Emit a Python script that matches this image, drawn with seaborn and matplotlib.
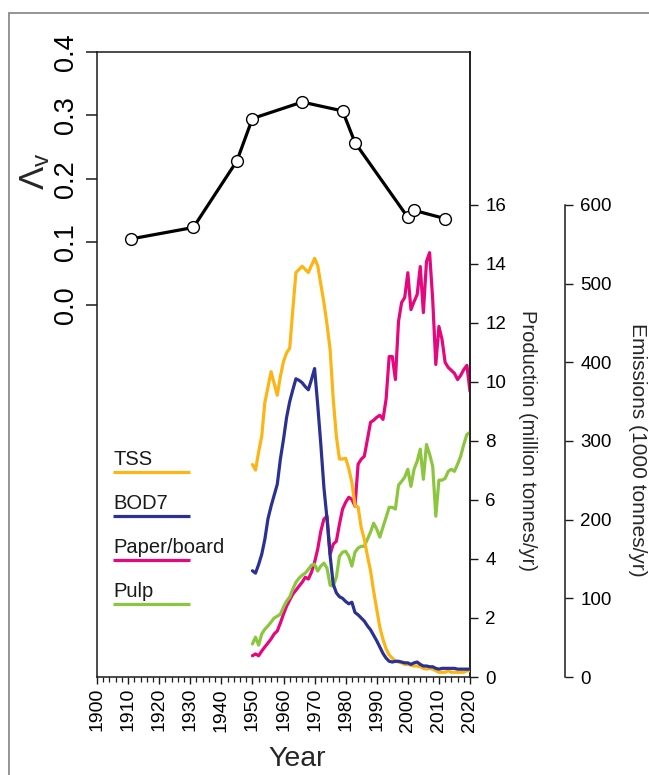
import matplotlib
matplotlib.use("Agg")
import matplotlib.pyplot as plt
from matplotlib.lines import Line2D
from matplotlib.ticker import MultipleLocator
import numpy as np
import pandas as pd
import seaborn as sns

# Lambda_v estimates (sparse years)
lambda_years = [1911, 1931, 1945, 1950, 1966, 1979, 1983, 2000, 2002, 2012]
lambda_vals = [0.105, 0.123, 0.228, 0.295, 0.321, 0.307, 0.257, 0.139, 0.150, 0.137]

years = list(range(1950, 2021))

# emissions, 1000 tonnes/yr
tss = [270, 263, 286, 306, 349, 368, 388, 373, 358, 382,
       401, 412, 418, 467, 514, 518, 522, 518, 514, 523,
       532, 523, 499, 476, 448, 416, 353, 306, 277, 277,
       278, 265, 247, 218, 216, 190, 175, 154, 135, 109,
       86, 63, 48, 36, 28, 24, 20, 19, 18, 16,
       16, 15, 14, 14, 13, 11, 10, 11, 10, 8,
       6, 6, 6, 8, 6, 6, 6, 6, 6, 8,
       8]
bod7 = [135, 132, 143, 156, 175, 201, 217, 231, 245, 277,
        302, 330, 350, 365, 379, 377, 374, 369, 365, 378,
        392, 346, 296, 241, 201, 154, 118, 107, 102, 100,
        96, 93, 95, 82, 79, 75, 71, 65, 60, 53,
        46, 38, 30, 24, 20, 19, 20, 20, 19, 18,
        18, 16, 18, 19, 16, 14, 14, 13, 13, 11,
        10, 11, 11, 11, 11, 11, 10, 10, 10, 10,
        10]

# production, million tonnes/yr
paper = [0.72, 0.78, 0.72, 0.88, 1.02, 1.15, 1.29, 1.46, 1.56, 1.83,
         2.13, 2.40, 2.61, 2.81, 2.94, 3.08, 3.21, 3.38, 3.32, 3.55,
         3.89, 4.33, 4.94, 5.35, 5.45, 4.16, 4.50, 4.60, 5.18, 5.69,
         5.92, 6.09, 6.02, 5.79, 7.21, 7.38, 7.48, 8.05, 8.63, 8.70,
         8.80, 8.87, 8.73, 9.41, 10.86, 10.86, 10.08, 12.05, 12.69, 12.86,
         13.70, 12.45, 12.72, 12.96, 13.91, 12.35, 14.08, 14.38, 12.79, 10.59,
         11.88, 11.44, 10.66, 10.49, 10.39, 10.29, 10.08, 10.22, 10.42, 10.56,
         9.68]
pulp = [1.12, 1.35, 1.08, 1.46, 1.62, 1.73, 1.86, 2.00, 2.06, 2.13,
        2.37, 2.57, 2.71, 2.98, 3.21, 3.35, 3.45, 3.52, 3.65, 3.79,
        3.82, 3.59, 3.76, 3.86, 3.69, 3.11, 3.08, 3.38, 4.09, 4.23,
        4.26, 4.09, 3.76, 4.23, 4.37, 4.43, 4.43, 4.67, 4.91, 5.21,
        5.01, 4.74, 5.08, 5.41, 5.75, 5.75, 5.69, 6.50, 6.63, 6.77,
        7.04, 6.46, 7.04, 7.31, 7.72, 6.70, 7.88, 7.55, 7.14, 5.45,
        6.67, 6.67, 6.73, 6.97, 7.04, 6.97, 7.21, 7.48, 7.88, 8.22,
        8.29]

series_names = ["TSS", "BOD7", "Paper/board", "Pulp"]
colors = {"TSS": "#fdb515", "BOD7": "#2b3192", "Paper/board": "#e6077e", "Pulp": "#8cc63f"}

df_lam = pd.DataFrame({"year": lambda_years, "lam": lambda_vals})
df_em = pd.DataFrame({"year": years, "TSS": tss, "BOD7": bod7})
df_pr = pd.DataFrame({"year": years, "Paper/board": paper, "Pulp": pulp})

sns.set_style("ticks")
plt.rcParams['font.family'] = ['Liberation Sans', 'DejaVu Sans']
plt.rcParams['mathtext.fontset'] = 'custom'
plt.rcParams['mathtext.rm'] = 'Liberation Sans'
plt.rcParams['mathtext.it'] = 'Liberation Sans:italic'

W, H = 649, 775
fig = plt.figure(figsize=(W / 100, H / 100), dpi=100)
fig.patch.set_facecolor('white')
ax = fig.add_axes([97 / W, 1 - 677 / H, 373 / W, 625 / H])
ax2 = ax.twinx()
ax3 = ax.twinx()

lw = 2.3
# emissions
for name in ["TSS", "BOD7"]:
    sns.lineplot(data=df_em, x="year", y=name, ax=ax3, color=colors[name], lw=lw)
# production
for name in ["Paper/board", "Pulp"]:
    sns.lineplot(data=df_pr, x="year", y=name, ax=ax2, color=colors[name], lw=lw)
# lambda
sns.lineplot(data=df_lam, x="year", y="lam", ax=ax, color='black', lw=2.3,
             marker='o', markersize=8.5, markerfacecolor='white',
             markeredgecolor='black', markeredgewidth=1.0)

spine_c = '#1a1a1a'
# main axis
ax.set_xlim(1900, 2020)
ax.set_ylim(-0.5866, 0.4)
ax.set_yticks([0.0, 0.1, 0.2, 0.3, 0.4])
ax.set_yticklabels([f"{v:.1f}" for v in [0.0, 0.1, 0.2, 0.3, 0.4]])
ax.tick_params(axis='y', labelrotation=90, labelsize=19.5, length=8, width=1.1,
               pad=5, color=spine_c, labelcolor='black')
for lab in ax.get_yticklabels():
    lab.set_va('center')
ax.set_xticks(range(1900, 2021, 10))
ax.xaxis.set_minor_locator(MultipleLocator(2))
ax.tick_params(axis='x', which='major', labelrotation=90, labelsize=14,
               length=5, width=1.0, pad=3, color=spine_c, labelcolor='black')
ax.tick_params(axis='x', which='minor', length=3.5, width=0.9, color=spine_c)
ax.set_xlabel("Year", fontsize=20.5)
ax.xaxis.set_label_coords(0.536, -0.11)
ax.set_ylabel(r"$\Lambda_\mathrm{v}$", fontsize=25)
ax.yaxis.set_label_coords(-0.12, 0.81)
for s in ax.spines.values():
    s.set_color(spine_c)
    s.set_linewidth(1.1)

# production axis
ax2.set_ylim(0, 21.18)
ax2.set_yticks(range(0, 17, 2))
ax2.tick_params(axis='y', labelsize=13.5, length=6, width=1.0, pad=5,
                color=spine_c, labelcolor='black')
for k in ["top", "left", "bottom"]:
    ax2.spines[k].set_visible(False)
ax2.spines["right"].set_color(spine_c)
ax2.spines["right"].set_linewidth(1.1)
ax2.set_xlabel("")
ax2.set_ylabel("Production (million tonnes/yr)", fontsize=14.5, rotation=270, va='center')
ax2.yaxis.set_label_coords((527 - 97) / 373, (677 - 441) / 625)

# emissions axis
ax3.set_ylim(0, 21.18 * 37.5)
ax3.spines["right"].set_position(("axes", (565 - 97) / 373))
ax3.spines["right"].set_bounds(0, 600)
ax3.spines["right"].set_color(spine_c)
ax3.spines["right"].set_linewidth(1.1)
for k in ["top", "left", "bottom"]:
    ax3.spines[k].set_visible(False)
ax3.set_yticks(range(0, 601, 100))
ax3.tick_params(axis='y', labelsize=13.5, length=6, width=1.0, pad=5,
                color=spine_c, labelcolor='black')
ax3.set_xlabel("")
ax3.set_ylabel("Emissions (1000 tonnes/yr)", fontsize=15, rotation=270, va='center')
ax3.yaxis.set_label_coords((638 - 97) / 373, (677 - 450) / 625)

# legend: label text with a coloured line beneath
y0 = 0.339
for i, name in enumerate(series_names):
    yb = y0 - i * 0.0705
    ax.text(0.043, yb, name, transform=ax.transAxes, fontsize=14.5,
            ha='left', va='baseline', color='#1a1a1a')
    ax.add_line(Line2D([0.043, 0.249], [yb - 0.011, yb - 0.011], transform=ax.transAxes,
                       color=colors[name], lw=2.3, solid_capstyle='butt'))

# outer panel frame
fig.add_artist(Line2D([9 / W, 9 / W], [0, 1 - 13 / H], transform=fig.transFigure,
                      color='#8c8c8c', lw=1.3))
fig.add_artist(Line2D([9 / W, 1], [1 - 13 / H, 1 - 13 / H], transform=fig.transFigure,
                      color='#8c8c8c', lw=1.3))

fig.savefig("out.png", dpi=100)
